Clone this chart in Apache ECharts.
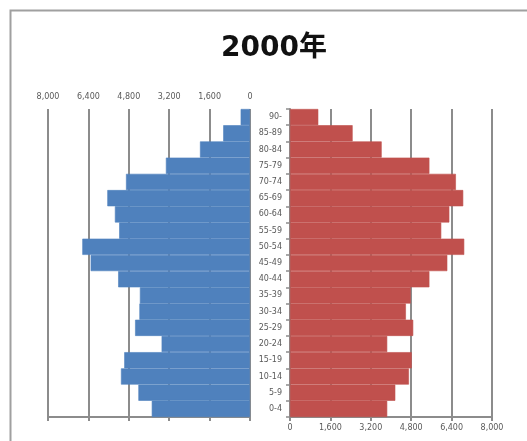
<!DOCTYPE html>
<html><head><meta charset="utf-8">
<script src="https://cdn.jsdelivr.net/npm/echarts@6/dist/echarts.min.js"></script>
<style>html,body{margin:0;padding:0;background:#fff}#c{width:527px;height:441px}</style>
</head><body><div id="c"></div>
<script>
var ageGroups = ['0-4','5-9','10-14','15-19','20-24','25-29','30-34','35-39','40-44','45-49','50-54','55-59','60-64','65-69','70-74','75-79','80-84','85-89','90-'];
var maleValues = [3890,4420,5110,4980,3500,4550,4380,4360,5220,6310,6640,5180,5350,5650,4910,3330,1980,1060,370];
var femaleValues = [3850,4170,4710,4820,3850,4880,4590,4780,5520,6230,6900,5990,6310,6860,6570,5520,3630,2480,1120];
var axisTicks = [0,1600,3200,4800,6400,8000];
var titleText = '2000年';

var gridColor = '#8c8c8c';
var labelStyle = {fontFamily:'DejaVu Sans', fontSize:8, color:'#595959'};
function fmt(v){ return v.toLocaleString('en-US'); }
var chart = echarts.init(document.getElementById('c'));
chart.setOption({
  animation:false,
  title:{text:titleText,left:269,top:30,textAlign:'center',textStyle:{fontFamily:'DejaVu Sans, Noto Sans CJK JP',fontWeight:'bold',fontSize:28,color:'#111'}},
  graphic:[{type:'polyline',shape:{points:[[10.5,470],[10.5,10.5],[560,10.5]]},style:{stroke:'#a0a0a0',lineWidth:2,fill:null}}],
  grid:[{left:48,right:277,top:109,bottom:24},{left:290,right:35,top:109,bottom:24}],
  xAxis:[
    {gridIndex:0,type:'value',min:axisTicks[0],max:axisTicks[axisTicks.length-1],interval:1600,inverse:true,position:'top',
     axisLine:{show:false},axisTick:{show:false},axisLabel:Object.assign({margin:8,formatter:fmt},labelStyle),
     splitLine:{show:true,lineStyle:{color:gridColor,width:2}}},
    {gridIndex:0,type:'value',min:0,max:8000,interval:1600,inverse:true,position:'bottom',
     axisLine:{show:true,lineStyle:{color:gridColor,width:2}},axisTick:{show:true,length:4,lineStyle:{color:gridColor,width:2}},axisLabel:{show:false},splitLine:{show:false}},
    {gridIndex:1,type:'value',min:0,max:8000,interval:1600,position:'bottom',
     axisLine:{show:true,lineStyle:{color:gridColor,width:2}},axisTick:{show:true,length:4,lineStyle:{color:gridColor,width:2}},
     axisLabel:Object.assign({margin:7,formatter:fmt},labelStyle),
     splitLine:{show:true,lineStyle:{color:gridColor,width:2}}}
  ],
  yAxis:[
    {gridIndex:0,type:'category',data:ageGroups,position:'right',axisLine:{show:false},axisTick:{show:false},axisLabel:{show:false}},
    {gridIndex:1,type:'category',data:ageGroups,position:'left',
     axisLine:{show:true,lineStyle:{color:gridColor,width:2}},axisTick:{show:true,length:4,lineStyle:{color:gridColor,width:1.5}},
     axisLabel:Object.assign({margin:8},labelStyle)}
  ],
  series:[
    {type:'bar',xAxisIndex:0,yAxisIndex:0,data:maleValues,barCategoryGap:0,z:10,itemStyle:{color:'#4F81BD',borderColor:'#4F81BD',borderWidth:0.6}},
    {type:'bar',xAxisIndex:2,yAxisIndex:1,data:femaleValues,barCategoryGap:0,z:10,itemStyle:{color:'#C0504D',borderColor:'#C0504D',borderWidth:0.6}}
  ]
});
</script></body></html>
